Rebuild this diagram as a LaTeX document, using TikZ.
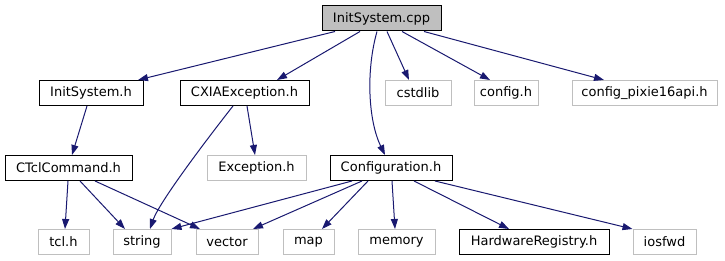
\documentclass[tikz,border=0pt]{standalone}
\usepackage{fontspec}
\setmainfont{DejaVu Sans}
\usetikzlibrary{arrows.meta,calc}
\definecolor{edgec}{HTML}{191970}
\definecolor{grayb}{HTML}{BFBFBF}
\begin{document}
\begin{tikzpicture}[x=1pt,y=-1pt,
 box/.style={draw=black,line width=1pt,inner sep=0pt,minimum height=25pt,font=\fontsize{13}{15}\selectfont},
 ext/.style={box,draw=grayb},
 root/.style={box,fill=grayb},
 dep/.style={draw=edgec,line width=1pt,-{Triangle[length=10pt,width=7pt]},color=edgec}
]
\useasboundingbox (0,0) rectangle (725,261);
% row 1
\node[root,minimum width=119pt] (cpp) at (381.5,18.5) {InitSystem.cpp};
% row 2
\node[box,minimum width=104pt] (ish) at (91,93) {InitSystem.h};
\node[box,minimum width=129pt] (cxia) at (244.5,93) {CXIAException.h};
\node[ext,minimum width=66pt] (cstdlib) at (418,93) {cstdlib};
\node[ext,minimum width=64pt] (configh) at (506,93) {config.h};
\node[ext,minimum width=145pt] (pixie) at (644.5,93) {config\_pixie16api.h};
% row 3
\node[box,minimum width=127pt] (tclcmd) at (68.5,168) {CTclCommand.h};
\node[ext,minimum width=99pt] (exc) at (256.5,168) {Exception.h};
\node[box,minimum width=122pt] (conf) at (391,168) {Configuration.h};
% row 4
\node[ext,minimum width=51pt] (tcl) at (63.5,242) {tcl.h};
\node[ext,minimum width=58pt] (string) at (142,242) {string};
\node[ext,minimum width=62pt] (vector) at (227,242) {vector};
\node[ext,minimum width=51pt] (map) at (308.5,242) {map};
\node[ext,minimum width=77pt] (memory) at (396.5,242) {memory};
\node[box,minimum width=150pt] (hw) at (534,242) {HardwareRegistry.h};
\node[ext,minimum width=63pt] (iosfwd) at (664.5,242) {iosfwd};
% edges from InitSystem.cpp
\draw[dep] ([xshift=-46.5pt]cpp.south) -- ([xshift=47pt]ish.north);
\draw[dep] ([xshift=-21.5pt]cpp.south) -- ([xshift=32.5pt]cxia.north);
\draw[dep] ([xshift=5.5pt]cpp.south) -- ([xshift=-9pt]cstdlib.north);
\draw[dep] ([xshift=20.5pt]cpp.south) -- ([xshift=-16pt]configh.north);
\draw[dep] ([xshift=42.5pt]cpp.south) -- ([xshift=-40.5pt]pixie.north);
\draw[dep] ([xshift=-4.5pt]cpp.south) .. controls (366,70) and (368,120) .. ([xshift=-6pt]conf.north);
% InitSystem.h
\draw[dep] ([xshift=-4pt]ish.south) -- ([xshift=3.5pt]tclcmd.north);
% CXIAException.h
\draw[dep] ([xshift=-11.5pt]cxia.south) .. controls (218,125) and (160,200) .. ([xshift=8pt]string.north);
\draw[dep] ([xshift=2.5pt]cxia.south) -- ([xshift=-1.5pt]exc.north);
% CTclCommand.h
\draw[dep] ([xshift=-0.5pt]tclcmd.south) -- ([xshift=1.5pt]tcl.north);
\draw[dep] ([xshift=11.5pt]tclcmd.south) -- ([xshift=-17pt]string.north);
\draw[dep] ([xshift=26.5pt]tclcmd.south) -- ([xshift=-27pt]vector.north);
% Configuration.h
\draw[dep] ([xshift=-39pt]conf.south) -- (string.north east);
\draw[dep] ([xshift=-29pt]conf.south) -- ([xshift=26pt]vector.north);
\draw[dep] ([xshift=-23pt]conf.south) -- ([xshift=13.5pt]map.north);
\draw[dep] ([xshift=1pt]conf.south) -- ([xshift=-1.5pt]memory.north);
\draw[dep] ([xshift=23pt]conf.south) -- ([xshift=-25pt]hw.north);
\draw[dep] ([xshift=44pt]conf.south) -- (iosfwd.north west);
\end{tikzpicture}
\end{document}
